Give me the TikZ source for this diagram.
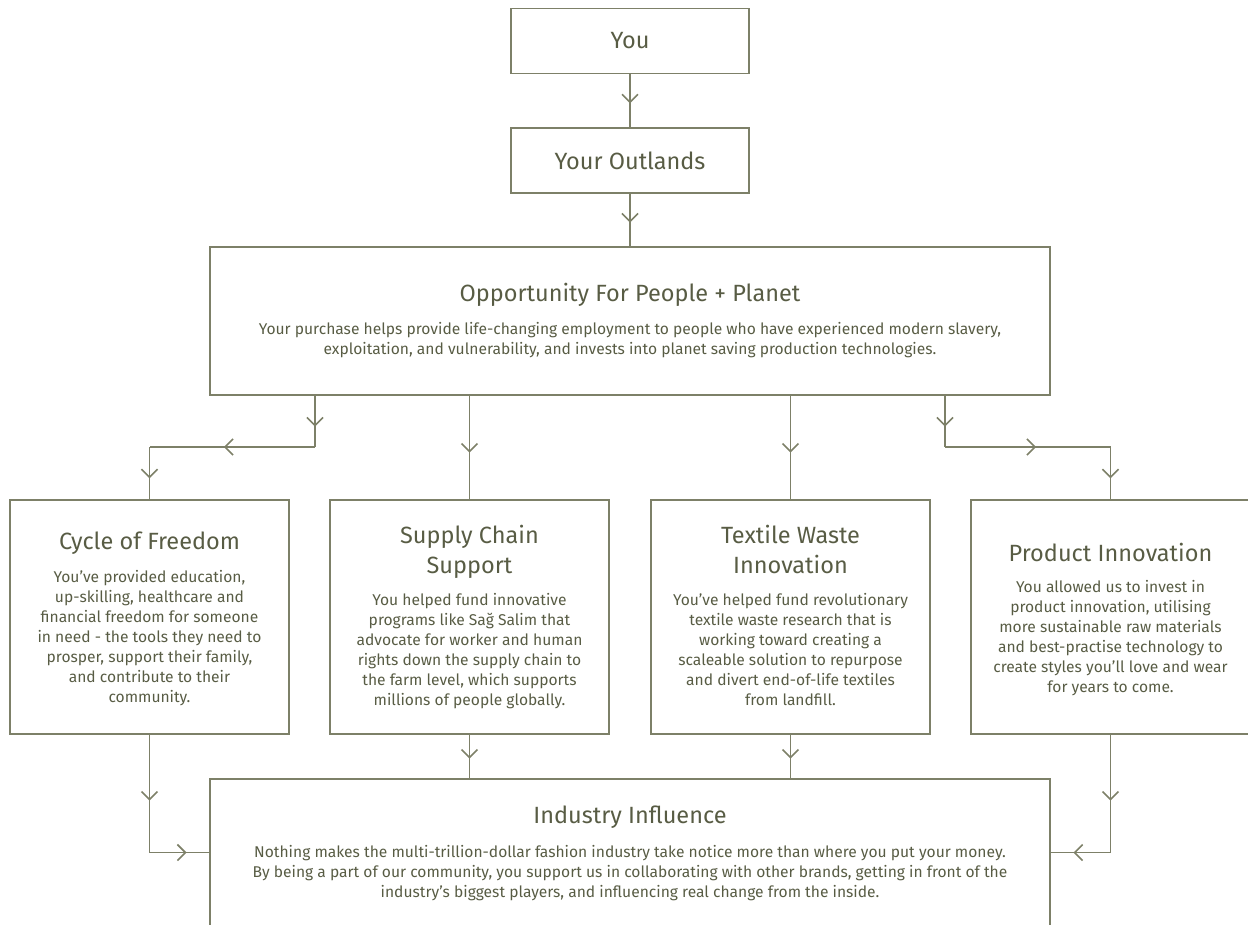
\documentclass[tikz,border=0pt]{standalone}
\usepackage{fontspec}
\setmainfont{Fira Sans}
\usepackage{xcolor}
\usetikzlibrary{arrows.meta,positioning,decorations.markings}

\definecolor{linecol}{RGB}{125,128,104}
\definecolor{textcol}{RGB}{88,92,68}

\begin{document}
\begin{tikzpicture}[
    x=1pt, y=-1pt,
    box/.style={rectangle, draw=linecol, line width=1.6pt, inner sep=0pt, text=textcol},
    smallbox/.style={box, minimum width=238pt, minimum height=65pt, font=\fontsize{23.5}{26}\selectfont},
    widebox/.style={box, minimum width=840pt, minimum height=148pt},
    colbox/.style={box, minimum width=279pt, minimum height=234pt},
    headtext/.style={anchor=north, inner sep=0pt, align=center, text=textcol, font=\fontsize{23.5}{30}\selectfont},
    bodytext/.style={anchor=north, inner sep=0pt, align=center, text=textcol, font=\fontsize{15.6}{20}\selectfont},
    flow/.style={draw=linecol, line width=1.6pt, postaction={decorate},
      decoration={markings, mark=at position #1 with {\arrow{Straight Barb[length=8pt,width=16pt]}}}},
    flow/.default=0.55
]
\useasboundingbox (0,0) rectangle (1248,924);

% boxes
\node[smallbox] (you) at (630,41) {You};
\node[smallbox] (outlands) at (630,160.5) {Your Outlands};
\node[widebox] (opp) at (630,321) {};
\node[colbox] (freedom) at (149.5,617) {};
\node[colbox] (supply) at (469.5,617) {};
\node[colbox] (textile) at (790.5,617) {};
\node[colbox] (product) at (1110.5,617) {};
\node[widebox, minimum height=147pt] (industry) at (630,852.5) {};

% texts
\node[headtext] (oppHead) at (630,283) {Opportunity For People + Planet};
\node[bodytext] (oppBody) at (630,322.5) {Your purchase helps provide life-changing employment to people who have experienced modern slavery,\\
exploitation, and vulnerability, and invests into planet saving production technologies.};

\node[headtext] (freedomHead) at (149.5,532) {Cycle of Freedom};
\node[bodytext] (freedomBody) at (149.5,570.5) {You’ve provided education,\\ up-skilling, healthcare and\\ financial freedom for someone\\ in need - the tools they need to\\ prosper, support their family,\\ and contribute to their\\ community.};

\node[headtext] (supplyHead) at (469.5,525) {Supply Chain\\ Support};
\node[bodytext] (supplyBody) at (469.5,593.5) {You helped fund innovative\\ programs like Sağ Salim that\\ advocate for worker and human\\ rights down the supply chain to\\ the farm level, which supports\\ millions of people globally.};

\node[headtext] (textileHead) at (790.5,525) {Textile Waste\\ Innovation};
\node[bodytext] (textileBody) at (790.5,593.5) {You’ve helped fund revolutionary\\ textile waste research that is\\ working toward creating a\\ scaleable solution to repurpose\\ and divert end-of-life textiles\\ from landfill.};

\node[headtext] (productHead) at (1110.5,543) {Product Innovation};
\node[bodytext] (productBody) at (1110.5,580.5) {You allowed us to invest in\\ product innovation, utilising\\ more sustainable raw materials\\ and best-practise technology to\\ create styles you’ll love and wear\\ for years to come.};

\node[headtext] (industryHead) at (630,806) {Industry Influence};
\node[bodytext] (industryBody) at (630,845.5) {Nothing makes the multi-trillion-dollar fashion industry take notice more than where you put your money.\\
By being a part of our community, you support us in collaborating with other brands, getting in front of the\\
industry’s biggest players, and influencing real change from the inside.};

% corners
\coordinate (splitL) at (315,447);
\coordinate (splitR) at (945,447);

% connectors
\draw[flow] (you) -- (outlands);
\draw[flow] (outlands) -- (opp);

\draw[flow=0.6] (opp.south -| splitL) -- (splitL);
\draw[flow] (splitL) -- (splitL -| freedom.north);
\draw[flow=0.6] (splitL -| freedom.north) -- (freedom.north);
\draw[flow] (opp.south -| supply.north) -- (supply.north);
\draw[flow] (opp.south -| textile.north) -- (textile.north);
\draw[flow=0.6] (opp.south -| splitR) -- (splitR);
\draw[flow] (splitR) -- (splitR -| product.north);
\draw[flow=0.6] (splitR -| product.north) -- (product.north);

\draw[flow=0.56] (freedom.south) -- (freedom.south |- industry.west);
\draw[flow=0.62] (freedom.south |- industry.west) -- (industry.west);
\draw[flow] (supply.south) -- (industry.north -| supply.south);
\draw[flow] (textile.south) -- (industry.north -| textile.south);
\draw[flow=0.56] (product.south) -- (product.south |- industry.east);
\draw[flow=0.62] (product.south |- industry.east) -- (industry.east);

\end{tikzpicture}
\end{document}
